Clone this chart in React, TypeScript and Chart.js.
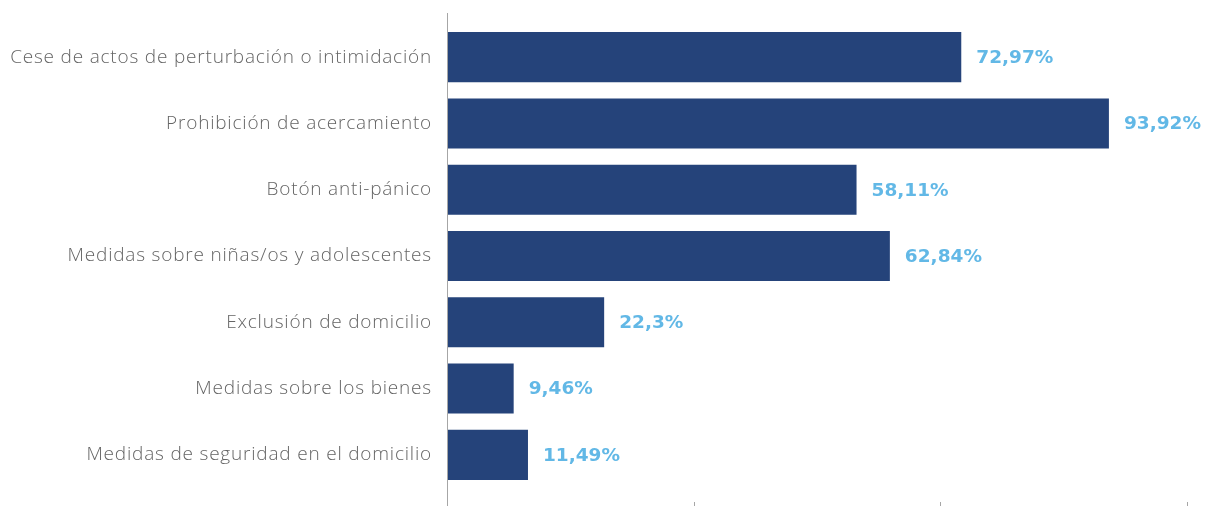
import React, { useEffect, useRef } from "react";
import { Chart, registerables } from "chart.js";

Chart.register(...registerables);

const categories = [
  "Cese de actos de perturbación o intimidación",
  "Prohibición de acercamiento",
  "Botón anti-pánico",
  "Medidas sobre niñas/os y adolescentes",
  "Exclusión de domicilio",
  "Medidas sobre los bienes",
  "Medidas de seguridad en el domicilio",
];
const values = [72.97, 93.92, 58.11, 62.84, 22.3, 9.46, 11.49];
const valueLabels = ["72,97%", "93,92%", "58,11%", "62,84%", "22,3%", "9,46%", "11,49%"];
const xTicks = [0, 35, 70, 105];

const BAR = "#25437a";
const LABEL = "#62b8e6";

const overlay = {
  id: "overlay",
  beforeDraw(chart: any) {
    (chart.ctx as any).letterSpacing = "0.8px";
  },
  afterDatasetsDraw(chart: any) {
    const ctx = chart.ctx;
    const x = chart.scales.x;
    const meta = chart.getDatasetMeta(0);
    ctx.save();
    (ctx as any).letterSpacing = "0px";
    ctx.font = "bold 18.5px 'DejaVu Sans'";
    ctx.fillStyle = LABEL;
    ctx.textBaseline = "middle";
    ctx.textAlign = "left";
    meta.data.forEach((bar: any, i: number) => {
      ctx.fillText(valueLabels[i], bar.x + 15, bar.y + 1);
    });
    ctx.strokeStyle = "#a6a6a6";
    ctx.lineWidth = 1;
    const x0 = Math.round(x.getPixelForValue(0)) + 0.5;
    ctx.beginPath();
    ctx.moveTo(x0, 13);
    ctx.lineTo(x0, chart.height);
    ctx.stroke();
    xTicks.forEach((t) => {
      const px = Math.round(x.getPixelForValue(t)) + 0.5;
      ctx.beginPath();
      ctx.moveTo(px, chart.height - 4);
      ctx.lineTo(px, chart.height);
      ctx.stroke();
    });
    ctx.restore();
  },
};

export default function App() {
  const ref = useRef<HTMLCanvasElement>(null);
  useEffect(() => {
    document.body.style.margin = "0";
    const chart = new Chart(ref.current!, {
      type: "bar",
      data: {
        labels: categories,
        datasets: [
          {
            data: values,
            backgroundColor: BAR,
            barPercentage: 0.755,
            categoryPercentage: 1,
          },
        ],
      },
      options: {
        indexAxis: "y",
        animation: false,
        responsive: false,
        layout: { padding: { top: 24, bottom: 18, right: 18, left: 0 } },
        plugins: { legend: { display: false }, tooltip: { enabled: false } },
        scales: {
          x: {
            display: false,
            min: 0,
            max: 105,
          },
          y: {
            grid: { display: false, drawTicks: false },
            border: { display: false },
            afterFit(scale: any) {
              scale.width = 447;
              scale.paddingTop = 0;
              scale.paddingBottom = 0;
            },
            ticks: {
              padding: 15,
              color: "#656565",
              font: { family: "'Open Sans'", size: 19, weight: 300 as any },
            },
          },
        },
      },
      plugins: [overlay],
    });
    return () => chart.destroy();
  }, []);
  return <canvas ref={ref} width={1205} height={506} style={{ display: "block" }} />;
}
